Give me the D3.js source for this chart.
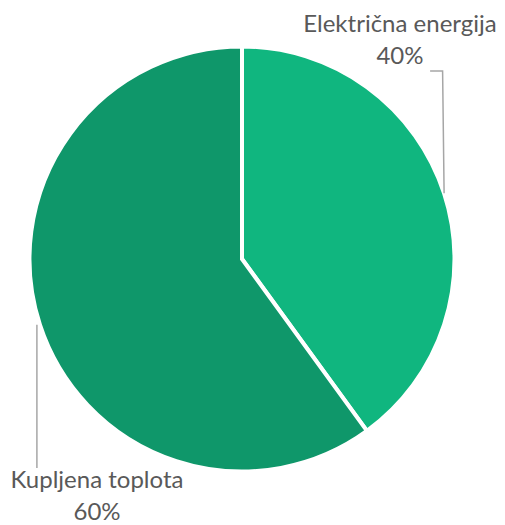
<!DOCTYPE html>
<html>
<head>
<meta charset="utf-8">
<script src="https://cdn.jsdelivr.net/npm/d3@7"></script>
<style>
  body { margin: 0; background: #fff; }
  text { font-family: Lato, "Open Sans", sans-serif; }
</style>
</head>
<body>
<div id="chart"></div>
<script>
var categories  =   ['Električna energija', 'Kupljena toplota'];
var shares      =   [40, 60];
var pct_labels  =   ['40%', '60%'];
var colors      =   ['#10b67f', '#0f976a'];

var chart_width  = 505;
var chart_height = 525;
var cx = 242, cy = 259, radius = 212.5;

var svg = d3.select('#chart')
    .append('svg')
    .attr('width', chart_width)
    .attr('height', chart_height);

var g = svg.append('g')
    .attr('transform', 'translate(' + cx + ',' + cy + ')');

// pie, pocinje od vrha, u smjeru kazaljke
var pie = d3.pie().sort(null).value(function(d){ return d; });
var arcs = pie(shares);

var arc = d3.arc().innerRadius(0).outerRadius(radius);

g.selectAll('path')
    .data(arcs)
    .enter()
    .append('path')
    .attr('d', arc)
    .attr('fill', function(d, i){ return colors[i]; })
    .attr('stroke', '#fff')
    .attr('stroke-width', 4)
    .attr('stroke-linejoin', 'miter');

// tocka na rubu (sredina kriske)
function edge(d){
    var a = (d.startAngle + d.endAngle) / 2;
    return [Math.sin(a) * radius, -Math.cos(a) * radius];
}

// linije i oznake
var p0 = edge(arcs[0]);
var p1 = edge(arcs[1]);

var lines = [
    [p0, [p0[0] - 1.5, -188], [p0[0] - 14, -188]],
    [[p1[0] - 3, p1[1]], [p1[0] - 3, 209]]
];

g.selectAll('polyline')
    .data(lines)
    .enter()
    .append('polyline')
    .attr('points', function(d){ return d.map(function(p){ return p.join(','); }).join(' '); })
    .attr('fill', 'none')
    .attr('stroke', '#a6a6a6')
    .attr('stroke-width', 1.5);

var label_pos = [[158, -227], [-145, 229]];

var labels = g.selectAll('text.lbl')
    .data(arcs)
    .enter()
    .append('text')
    .attr('class', 'lbl')
    .attr('text-anchor', 'middle')
    .attr('font-size', 24)
    .attr('fill', '#595959');

labels.append('tspan')
    .attr('x', function(d, i){ return label_pos[i][0]; })
    .attr('y', function(d, i){ return label_pos[i][1]; })
    .text(function(d, i){ return categories[i]; });

labels.append('tspan')
    .attr('x', function(d, i){ return label_pos[i][0]; })
    .attr('y', function(d, i){ return label_pos[i][1] + 32; })
    .text(function(d, i){ return pct_labels[i]; });
</script>
</body>
</html>
